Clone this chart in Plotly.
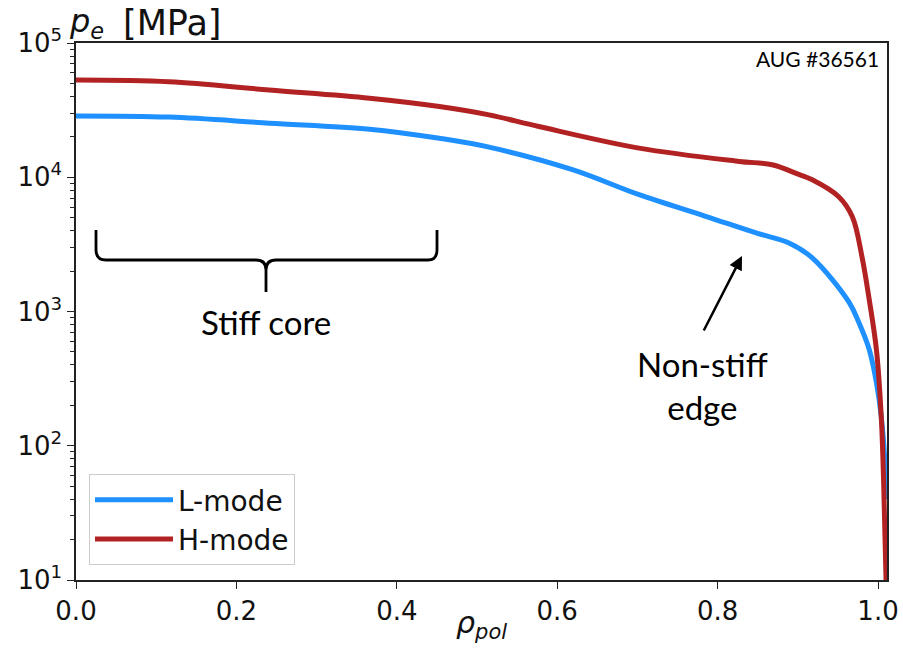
import plotly.graph_objects as go

# ---- data ----
rho_L = [0.0, 0.116, 0.241, 0.366, 0.453, 0.515, 0.619, 0.702, 0.785, 0.848, 0.889,
         0.918, 0.964, 0.976, 0.989, 0.998, 1.004, 1.009, 1.0105]
pe_L = [28640, 28050, 25290, 22800, 19500, 16750, 11380, 7410, 5120, 3850, 3240,
        2510, 1170, 830, 521, 296, 166, 70, 40]

rho_H = [0.0, 0.116, 0.241, 0.366, 0.453, 0.515, 0.577, 0.702, 0.827, 0.868, 0.902, 0.918,
         0.951, 0.968, 0.980, 0.989, 0.998, 1.004, 1.007, 1.010]
pe_H = [53090, 51520, 44670, 38810, 33650, 29170, 23880, 16480, 13120, 12390, 10450, 9570,
        7160, 5080, 2560, 1230, 521, 166, 54, 10]

series_names = ["L-mode", "H-mode"]
series_colors = ["#1E90FF", "#B22222"]

x_ticks = [0.0, 0.2, 0.4, 0.6, 0.8, 1.0]
y_ticks = [10, 100, 1000, 10000, 100000]
y_ticktext = ["10<sup>1</sup>", "10<sup>2</sup>", "10<sup>3</sup>", "10<sup>4</sup>", "10<sup>5</sup>"]
y_minor = [m * 10 ** k for k in range(1, 5) for m in range(2, 10)]

# ---- layout geometry (pixels) ----
W, H = 903, 659
L, R, T, B = 76, 887, 43, 580


def px(x):
    return (x - L) / (R - L)


def py(y):
    return (B - y) / (B - T)


fig = go.Figure()
for xs, ys, name, col in [(rho_L, pe_L, series_names[0], series_colors[0]),
                          (rho_H, pe_H, series_names[1], series_colors[1])]:
    fig.add_trace(go.Scatter(x=xs, y=ys, mode="lines", name=name,
                             line=dict(color=col, width=5, shape="spline", smoothing=1.0)))

tickfont = dict(family="DejaVu Sans", size=26, color="#111111")
fig.update_layout(
    width=W, height=H,
    margin=dict(l=L, r=W - R, t=T, b=H - B, autoexpand=False),
    plot_bgcolor="white", paper_bgcolor="white",
    showlegend=True,
    legend=dict(x=px(89), y=py(474), xanchor="left", yanchor="top",
                bgcolor="rgba(255,255,255,0.9)", bordercolor="#cccccc", borderwidth=1,
                font=dict(family="DejaVu Sans", size=28, color="#111111"),
                itemwidth=78, tracegroupgap=0),
    xaxis=dict(range=[0, 1.0112], tickvals=x_ticks, tickformat=".1f", automargin=False,
               showline=True, linecolor="#222222", linewidth=1.5, mirror=True,
               ticks="outside", ticklen=7, tickwidth=1.3, tickcolor="#222222",
               showgrid=False, zeroline=False, tickfont=tickfont),
    yaxis=dict(type="log", range=[1, 5], tickvals=y_ticks, ticktext=y_ticktext, automargin=False,
               showline=True, linecolor="#222222", linewidth=1.5, mirror=True,
               ticks="outside", ticklen=7, tickwidth=1.3, tickcolor="#222222",
               minor=dict(tickvals=y_minor, ticks="outside", ticklen=4, tickwidth=1,
                          tickcolor="#222222", showgrid=False),
               showgrid=False, zeroline=False, tickfont=tickfont),
)

ann_font = dict(family="Lato", size=33, color="#000000")
dv = dict(family="DejaVu Sans", size=30, color="#111111")
annotations = [
    dict(text="<i>p</i><sub><i>e</i></sub>", x=px(67), y=py(23), xanchor="left",
         yanchor="middle", showarrow=False,
         font=dict(family="DejaVu Sans", size=32, color="#111111")),
    dict(text="[MPa]", x=px(121), y=py(23), xanchor="left",
         yanchor="middle", showarrow=False,
         font=dict(family="DejaVu Sans", size=35, color="#111111")),
    dict(text="<i>ρ</i><sub><i>pol</i></sub>", x=px(481), y=py(603), xanchor="center",
         yanchor="top", showarrow=False, font=dv),
    dict(text="AUG #36561", x=px(881), y=py(59), xanchor="right", yanchor="middle",
         showarrow=False, font=dict(family="Lato", size=21, color="#000000")),
    dict(text="Stiff core", x=px(266), y=py(322), xanchor="center", yanchor="middle",
         showarrow=False, font=ann_font),
    dict(text="Non-stiff<br>edge", x=px(702), y=py(385), xanchor="center", yanchor="middle",
         showarrow=False, font=ann_font),
    dict(text="", x=px(742), y=py(256), ax=703 - 742, ay=332 - 256, showarrow=True,
         arrowhead=2, arrowsize=1.1, arrowwidth=2.5, arrowcolor="#000000"),
]
for a in annotations:
    a.setdefault("xref", "paper")
    a.setdefault("yref", "paper")
fig.update_layout(annotations=annotations)

# curly brace (pixel path converted to paper coordinates)
brace_pts = [("M", [(96, 230)]), ("L", [(96, 250)]), ("Q", [(96, 260), (106, 260)]),
             ("L", [(256, 260)]), ("Q", [(266, 260), (266, 270)]), ("L", [(266, 292)]),
             ("L", [(266, 270)]), ("Q", [(266, 260), (276, 260)]), ("L", [(428, 260)]),
             ("Q", [(437, 260), (437, 250)]), ("L", [(437, 230)])]
path = " ".join(cmd + " " + " ".join(f"{px(x):.5f},{py(y):.5f}" for x, y in pts)
                for cmd, pts in brace_pts)
fig.add_shape(type="path", path=path, xref="paper", yref="paper",
              line=dict(color="#000000", width=2.8))

fig.write_html("out.html")
